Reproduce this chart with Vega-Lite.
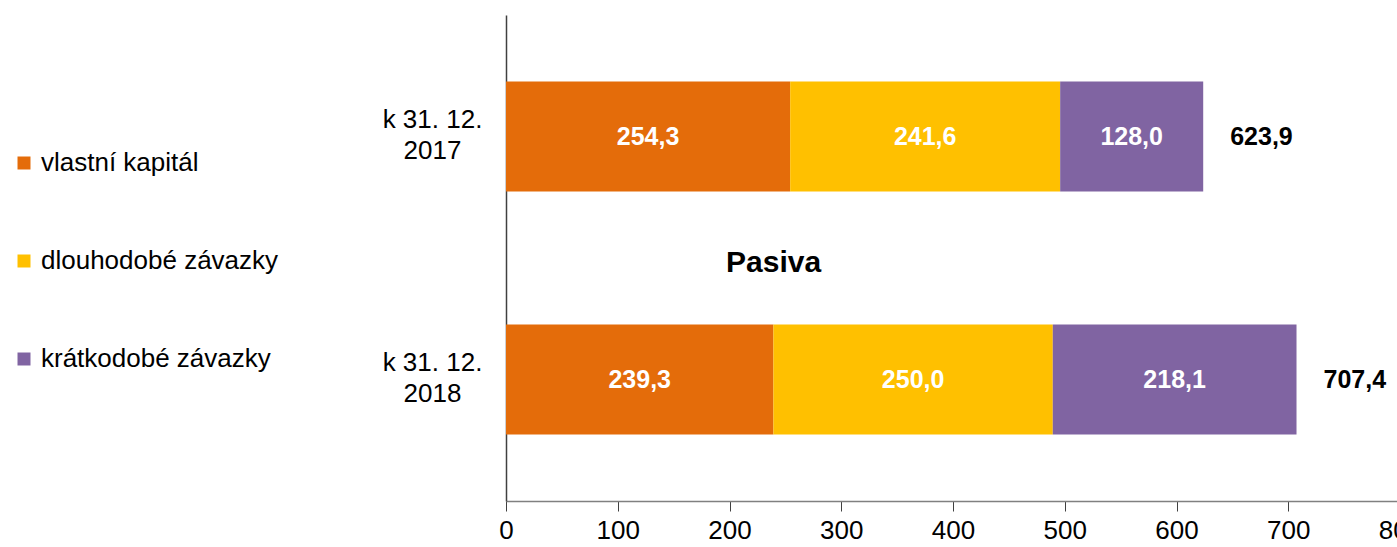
{
  "$schema": "https://vega.github.io/schema/vega-lite/v6.json",
  "width": 894,
  "height": 486,
  "autosize": {"type": "none"},
  "padding": {"left": 506, "top": 15, "right": 0, "bottom": 46},
  "background": "white",
  "config": {
    "view": {"stroke": null},
    "font": "Liberation Sans",
    "locale": {"number": {"decimal": ",", "thousands": " ", "grouping": [3], "currency": ["", ""]}}
  },
  "title": {
    "text": "Pasiva",
    "fontSize": 30,
    "fontWeight": "bold",
    "color": "black",
    "anchor": "start",
    "frame": "group",
    "dx": 220,
    "dy": 267
  },
  "data": {
    "values": [
      {"period": "k 31. 12. 2017", "series": "vlastní kapitál", "order": 1, "value": 254.3},
      {"period": "k 31. 12. 2017", "series": "dlouhodobé závazky", "order": 2, "value": 241.6},
      {"period": "k 31. 12. 2017", "series": "krátkodobé závazky", "order": 3, "value": 128.0},
      {"period": "k 31. 12. 2018", "series": "vlastní kapitál", "order": 1, "value": 239.3},
      {"period": "k 31. 12. 2018", "series": "dlouhodobé závazky", "order": 2, "value": 250.0},
      {"period": "k 31. 12. 2018", "series": "krátkodobé závazky", "order": 3, "value": 218.1}
    ]
  },
  "transform": [
    {"stack": "value", "groupby": ["period"], "sort": [{"field": "order"}], "as": ["x0", "x1"]},
    {"calculate": "(datum.x0 + datum.x1) / 2", "as": "mid"}
  ],
  "encoding": {
    "y": {
      "field": "period",
      "type": "nominal",
      "sort": null,
      "scale": {"paddingInner": 0.547, "paddingOuter": 0.2735},
      "axis": {
        "title": null,
        "ticks": false,
        "labelAlign": "center",
        "labelBaseline": "middle",
        "labelPadding": 74,
        "labelFontSize": 26,
        "labelColor": "black",
        "labelLineHeight": 31,
        "labelOffset": -17,
        "labelLimit": 0,
        "domainColor": "#404040",
        "domainWidth": 1.5,
        "labelExpr": "[slice(datum.label, 0, 9), slice(datum.label, 10)]"
      }
    }
  },
  "layer": [
    {
      "mark": {"type": "bar"},
      "encoding": {
        "x": {
          "field": "x0",
          "type": "quantitative",
          "scale": {"domain": [0, 800], "nice": false},
          "axis": {
            "title": null,
            "values": [0, 100, 200, 300, 400, 500, 600, 700, 800],
            "grid": false,
            "tickSize": 10,
            "tickColor": "#404040",
            "domainColor": "#808080",
            "domainWidth": 1.5,
            "labelFontSize": 26,
            "labelColor": "black",
            "labelPadding": 6,
            "labelFlush": false,
            "labelOverlap": false
          }
        },
        "x2": {"field": "x1"},
        "color": {
          "field": "series",
          "type": "nominal",
          "scale": {
            "domain": ["vlastní kapitál", "dlouhodobé závazky", "krátkodobé závazky"],
            "range": ["#E46C0A", "#FFC000", "#8064A2"]
          },
          "legend": {
            "orient": "none",
            "legendX": -495,
            "legendY": 135,
            "title": null,
            "padding": 0,
            "symbolType": "square",
            "symbolSize": 169,
            "symbolStrokeWidth": 0,
            "labelFontSize": 26,
            "labelColor": "black",
            "labelOffset": 4,
            "labelLimit": 0,
            "rowPadding": 72
          }
        }
      }
    },
    {
      "mark": {"type": "text", "color": "white", "fontWeight": "bold", "fontSize": 25, "baseline": "middle"},
      "encoding": {
        "x": {"field": "mid", "type": "quantitative"},
        "text": {"field": "value", "type": "quantitative", "format": ".1f"}
      }
    },
    {
      "mark": {"type": "text", "color": "black", "fontWeight": "bold", "fontSize": 25, "align": "left", "dx": 27, "baseline": "middle"},
      "encoding": {
        "x": {"aggregate": "sum", "field": "value", "type": "quantitative"},
        "text": {"aggregate": "sum", "field": "value", "type": "quantitative", "format": ".1f"}
      }
    }
  ]
}
